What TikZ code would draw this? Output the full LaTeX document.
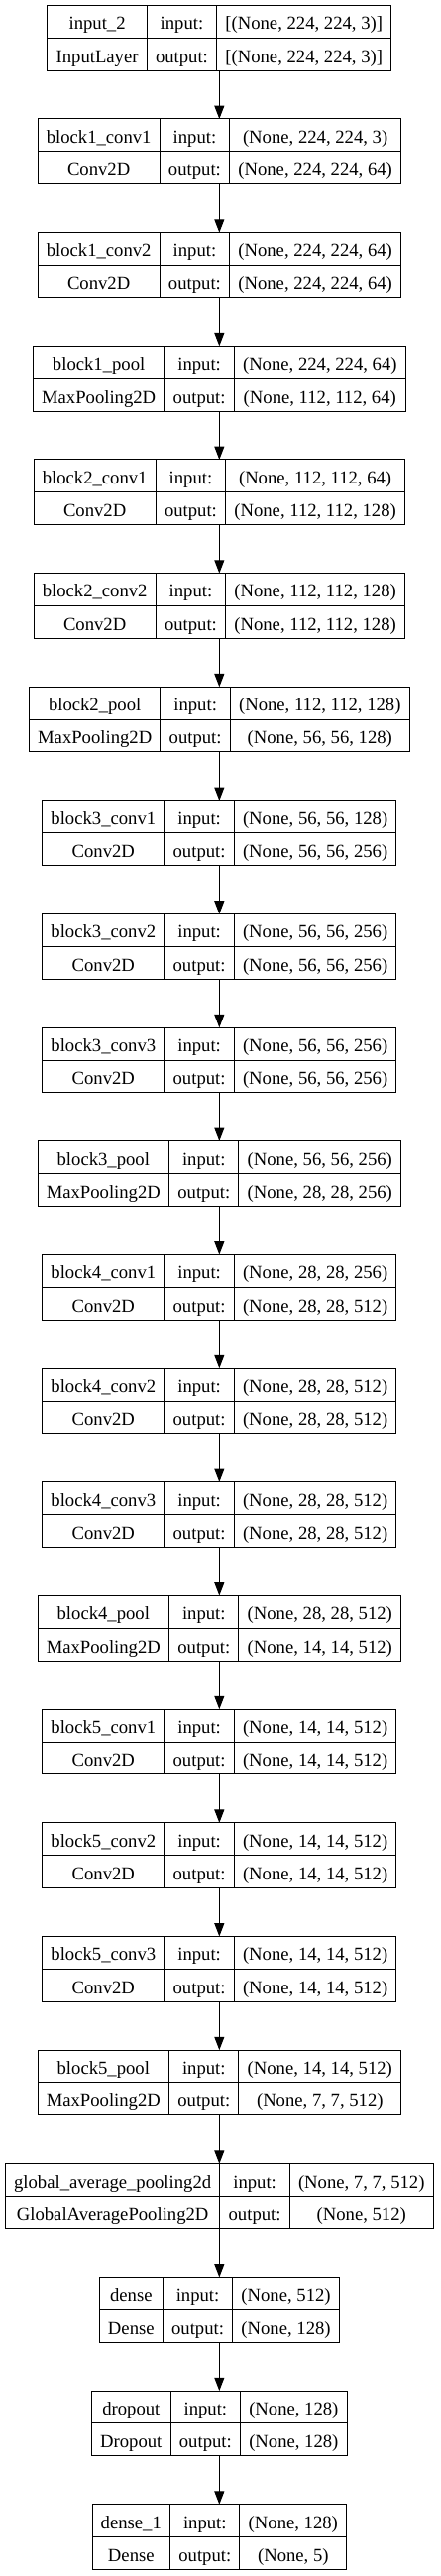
\documentclass[tikz,border=0pt]{standalone}
\usepackage{fontspec}
\setmainfont{Liberation Serif}
\usetikzlibrary{positioning, arrows.meta}

% table cells of one layer
\setlength{\tabcolsep}{6.55pt}
\setlength{\arrayrulewidth}{0.75pt}
\newcommand{\rowstrut}{\rule[-6pt]{0pt}{24.27pt}}
\newcommand{\layer}[4]{%
  \begin{tabular}{c|c|c}
    \rowstrut #1 & input: & #3 \\ \hline
    \rowstrut #2 & output: & #4
  \end{tabular}}

\tikzset{
  layerbox/.style={draw, line width=0.75pt, inner sep=0pt, outer sep=0pt, font=\fontsize{14pt}{17pt}\selectfont},
  flow/.style={-{Triangle[length=10pt, width=7.5pt]}, line width=0.75pt}
}

\begin{document}
\begin{tikzpicture}[node distance=36.7pt]
  \useasboundingbox (-166pt,4pt) rectangle (167pt,-1946pt);
  % Input
  \node[layerbox, anchor=north] (input) at (0,0) {\layer{input\_2}{InputLayer}{[(None, 224, 224, 3)]}{[(None, 224, 224, 3)]}};
  % Block 1
  \node[layerbox, below=of input] (b1conv1) {\layer{block1\_conv1}{Conv2D}{(None, 224, 224, 3)}{(None, 224, 224, 64)}};
  \node[layerbox, below=of b1conv1] (b1conv2) {\layer{block1\_conv2}{Conv2D}{(None, 224, 224, 64)}{(None, 224, 224, 64)}};
  \node[layerbox, below=of b1conv2] (b1pool) {\layer{block1\_pool}{MaxPooling2D}{(None, 224, 224, 64)}{(None, 112, 112, 64)}};
  % Block 2
  \node[layerbox, below=of b1pool] (b2conv1) {\layer{block2\_conv1}{Conv2D}{(None, 112, 112, 64)}{(None, 112, 112, 128)}};
  \node[layerbox, below=of b2conv1] (b2conv2) {\layer{block2\_conv2}{Conv2D}{(None, 112, 112, 128)}{(None, 112, 112, 128)}};
  \node[layerbox, below=of b2conv2] (b2pool) {\layer{block2\_pool}{MaxPooling2D}{(None, 112, 112, 128)}{(None, 56, 56, 128)}};
  % Block 3
  \node[layerbox, below=of b2pool] (b3conv1) {\layer{block3\_conv1}{Conv2D}{(None, 56, 56, 128)}{(None, 56, 56, 256)}};
  \node[layerbox, below=of b3conv1] (b3conv2) {\layer{block3\_conv2}{Conv2D}{(None, 56, 56, 256)}{(None, 56, 56, 256)}};
  \node[layerbox, below=of b3conv2] (b3conv3) {\layer{block3\_conv3}{Conv2D}{(None, 56, 56, 256)}{(None, 56, 56, 256)}};
  \node[layerbox, below=of b3conv3] (b3pool) {\layer{block3\_pool}{MaxPooling2D}{(None, 56, 56, 256)}{(None, 28, 28, 256)}};
  % Block 4
  \node[layerbox, below=of b3pool] (b4conv1) {\layer{block4\_conv1}{Conv2D}{(None, 28, 28, 256)}{(None, 28, 28, 512)}};
  \node[layerbox, below=of b4conv1] (b4conv2) {\layer{block4\_conv2}{Conv2D}{(None, 28, 28, 512)}{(None, 28, 28, 512)}};
  \node[layerbox, below=of b4conv2] (b4conv3) {\layer{block4\_conv3}{Conv2D}{(None, 28, 28, 512)}{(None, 28, 28, 512)}};
  \node[layerbox, below=of b4conv3] (b4pool) {\layer{block4\_pool}{MaxPooling2D}{(None, 28, 28, 512)}{(None, 14, 14, 512)}};
  % Block 5
  \node[layerbox, below=of b4pool] (b5conv1) {\layer{block5\_conv1}{Conv2D}{(None, 14, 14, 512)}{(None, 14, 14, 512)}};
  \node[layerbox, below=of b5conv1] (b5conv2) {\layer{block5\_conv2}{Conv2D}{(None, 14, 14, 512)}{(None, 14, 14, 512)}};
  \node[layerbox, below=of b5conv2] (b5conv3) {\layer{block5\_conv3}{Conv2D}{(None, 14, 14, 512)}{(None, 14, 14, 512)}};
  \node[layerbox, below=of b5conv3] (b5pool) {\layer{block5\_pool}{MaxPooling2D}{(None, 14, 14, 512)}{(None, 7, 7, 512)}};
  % Head
  \node[layerbox, below=of b5pool] (gap) {\layer{global\_average\_pooling2d}{GlobalAveragePooling2D}{(None, 7, 7, 512)}{(None, 512)}};
  \node[layerbox, below=of gap] (dense) {\layer{dense}{Dense}{(None, 512)}{(None, 128)}};
  \node[layerbox, below=of dense] (dropout) {\layer{dropout}{Dropout}{(None, 128)}{(None, 128)}};
  \node[layerbox, below=of dropout] (dense1) {\layer{dense\_1}{Dense}{(None, 128)}{(None, 5)}};
  % Connections
  \foreach \a/\b in {input/b1conv1, b1conv1/b1conv2, b1conv2/b1pool, b1pool/b2conv1,
      b2conv1/b2conv2, b2conv2/b2pool, b2pool/b3conv1, b3conv1/b3conv2, b3conv2/b3conv3,
      b3conv3/b3pool, b3pool/b4conv1, b4conv1/b4conv2, b4conv2/b4conv3, b4conv3/b4pool,
      b4pool/b5conv1, b5conv1/b5conv2, b5conv2/b5conv3, b5conv3/b5pool, b5pool/gap,
      gap/dense, dense/dropout, dropout/dense1}
    \draw[flow] (\a) -- (\b);
\end{tikzpicture}
\end{document}
